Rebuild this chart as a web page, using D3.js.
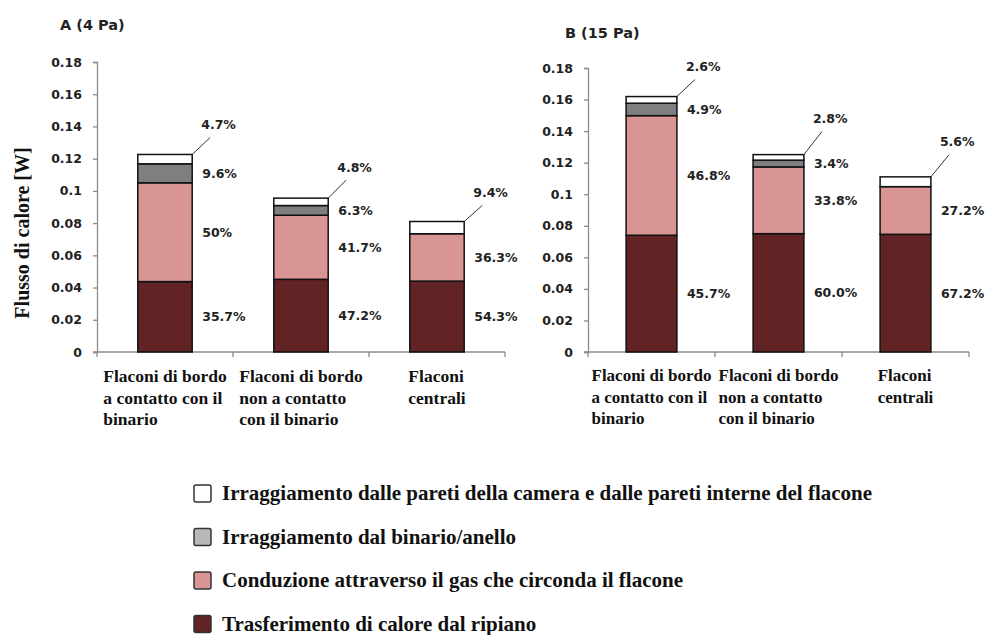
<!DOCTYPE html>
<html>
<head>
<meta charset="utf-8">
<script src="https://cdn.jsdelivr.net/npm/d3@7"></script>
<style>
    body { margin: 0; background: #fff; }
    .tick text, .pct, .ptitle { font-family: "DejaVu Sans", sans-serif; font-weight: bold; fill: #222; }
    .cat, .leg, .ytitle { font-family: "Liberation Serif", "Times New Roman", serif; font-weight: bold; fill: #111; }
</style>
</head>
<body>
<div id="main"></div>
<script>
// bottom to top in each bar
const SERIES = ["shelf", "gas", "ring", "walls"];
const LEGEND_LABELS = [
    "Irraggiamento dalle pareti della camera e dalle pareti interne del flacone",
    "Irraggiamento dal binario/anello",
    "Conduzione attraverso il gas che circonda il flacone",
    "Trasferimento di calore dal ripiano"
];
const CATEGORIES = [
    ["Flaconi di bordo", "a contatto con il", "binario"],
    ["Flaconi di bordo", "non a contatto", "con il binario"],
    ["Flaconi", "centrali"]
];
const Y_TICKS = [0, 0.02, 0.04, 0.06, 0.08, 0.1, 0.12, 0.14, 0.16, 0.18];

// panel A (4 Pa), values in W
const shelfA = [0.0437, 0.0451, 0.0440];
const gasA = [0.0613, 0.0398, 0.0294];
const ringA = [0.0118, 0.0060, 0];
const wallsA = [0.0058, 0.0046, 0.0076];
const pctA = {
    shelf: ["35.7%", "47.2%", "54.3%"],
    gas: ["50%", "41.7%", "36.3%"],
    ring: ["9.6%", "6.3%", null],
    walls: ["4.7%", "4.8%", "9.4%"]
};

// panel B (15 Pa)
const shelfB = [0.0740, 0.0750, 0.0746];
const gasB = [0.0758, 0.0423, 0.0302];
const ringB = [0.0079, 0.0043, 0];
const wallsB = [0.0042, 0.0035, 0.0062];
const pctB = {
    shelf: ["45.7%", "60.0%", "67.2%"],
    gas: ["46.8%", "33.8%", "27.2%"],
    ring: ["4.9%", "3.4%", null],
    walls: ["2.6%", "2.8%", "5.6%"]
};

const ctx = {
    w: 991,
    h: 635,
    colors: { shelf: "#622325", gas: "#d99594", ring: "#7f7f7f", walls: "#ffffff" },
    legendColors: ["#ffffff", "#b8b8b8", "#d99594", "#622325"],
};

const panels = [
    { title: "A  (4 Pa)", tx: 60, ty: 30, x0: 97, x1: 505, yTop: 62, yBottom: 352,
      vals: { shelf: shelfA, gas: gasA, ring: ringA, walls: wallsA }, pct: pctA,
      callout: [30, 31, 29], catY: 376, catSize: 17.5 },
    { title: "B  (15 Pa)", tx: 565, ty: 38, x0: 588, x1: 969, yTop: 68, yBottom: 352,
      vals: { shelf: shelfB, gas: gasB, ring: ringB, walls: wallsB }, pct: pctB,
      callout: [30, 36, 35], catY: 375, catSize: 17 }
];

function drawPanel(svgEl, p) {
    let rows = CATEGORIES.map((c, i) => {
        let r = { i: i };
        SERIES.forEach((s) => { r[s] = p.vals[s][i]; });
        return r;
    });
    let stacked = d3.stack().keys(SERIES)(rows);

    let x = d3.scaleBand().domain(d3.range(CATEGORIES.length)).range([p.x0, p.x1]).paddingInner(0.6).paddingOuter(0.3);
    let y = d3.scaleLinear().domain([0, 0.18]).range([p.yBottom, p.yTop]);

    let g = svgEl.append("g");

    // y axis
    let yAxis = g.append("g")
        .attr("transform", `translate(${p.x0},0)`)
        .call(d3.axisLeft(y).tickValues(Y_TICKS).tickFormat((d) => d3.format("")(+d.toFixed(2))).tickSize(4).tickPadding(11));
    yAxis.selectAll("path, line").attr("stroke", "#8c8c8c").attr("stroke-width", 1.3);
    yAxis.selectAll("text").attr("font-size", 12.5).style("font-family", "DejaVu Sans").style("font-weight", "bold").attr("fill", "#222");

    // x axis line with ticks at category boundaries
    let step = (p.x1 - p.x0) / CATEGORIES.length;
    g.append("line")
        .attr("x1", p.x0 - 4).attr("x2", p.x1)
        .attr("y1", p.yBottom).attr("y2", p.yBottom)
        .attr("stroke", "#8c8c8c").attr("stroke-width", 1.3);
    g.selectAll(".xt")
        .data(d3.range(CATEGORIES.length + 1))
        .enter()
        .append("line")
        .attr("x1", (d) => p.x0 + d * step).attr("x2", (d) => p.x0 + d * step)
        .attr("y1", p.yBottom).attr("y2", p.yBottom + 5)
        .attr("stroke", "#8c8c8c").attr("stroke-width", 1.3);

    // bars
    stacked.forEach(function (layer) {
        g.selectAll(null)
            .data(layer.filter((d) => d[1] - d[0] > 0))
            .enter()
            .append("rect")
            .attr("x", (d) => x(d.data.i))
            .attr("y", (d) => y(d[1]))
            .attr("width", x.bandwidth())
            .attr("height", (d) => y(d[0]) - y(d[1]))
            .attr("fill", ctx.colors[layer.key])
            .attr("stroke", "#111")
            .attr("stroke-width", 1.5);
    });

    // percentage labels
    stacked.forEach(function (layer) {
        layer.forEach(function (d) {
            let txt = p.pct[layer.key][d.data.i];
            if (txt == null) return;
            let right = x(d.data.i) + x.bandwidth();
            if (layer.key == "walls") {
                let top = y(d[1]);
                let off = p.callout[d.data.i];
                g.append("line")
                    .attr("x1", right).attr("y1", top)
                    .attr("x2", right + 18).attr("y2", top - off + 13)
                    .attr("stroke", "#333").attr("stroke-width", 1);
                g.append("text").classed("pct", true)
                    .attr("x", right + 9).attr("y", top - off)
                    .attr("dy", "0.35em").attr("font-size", 12.5)
                    .text(txt);
            } else {
                g.append("text").classed("pct", true)
                    .attr("x", right + 10).attr("y", (y(d[0]) + y(d[1])) / 2)
                    .attr("dy", "0.35em").attr("font-size", 12.5)
                    .text(txt);
            }
        });
    });

    // category labels: lines left aligned, block centred under bar
    CATEGORIES.forEach(function (lines, i) {
        let t = g.append("text").classed("cat", true).attr("font-size", p.catSize);
        lines.forEach(function (l, k) {
            t.append("tspan").attr("y", p.catY + 6 + k * 21.5).text(l);
        });
        let wmax = d3.max(t.selectAll("tspan").nodes(), (n) => n.getComputedTextLength());
        t.selectAll("tspan").attr("x", x(i) + x.bandwidth() / 2 - wmax / 2);
    });

    // panel title
    g.append("text").classed("ptitle", true)
        .attr("x", p.tx).attr("y", p.ty)
        .attr("font-size", 14.5)
        .text(p.title);
}

function createViz() {
    let svgEl = d3.select("#main").append("svg")
        .attr("width", ctx.w)
        .attr("height", ctx.h);
    svgEl.append("rect").attr("width", ctx.w).attr("height", ctx.h).attr("fill", "#fff");

    panels.forEach((p) => drawPanel(svgEl, p));

    // y axis title
    svgEl.append("text").classed("ytitle", true)
        .attr("transform", "translate(29,233) rotate(-90)")
        .attr("text-anchor", "middle")
        .attr("font-size", 20)
        .text("Flusso di calore [W]");

    // legend
    let legG = svgEl.append("g").attr("transform", "translate(194,0)");
    LEGEND_LABELS.forEach(function (lab, i) {
        let cy = 493 + i * 43.5;
        legG.append("rect")
            .attr("x", 0).attr("y", cy - 8)
            .attr("width", 17).attr("height", 17)
            .attr("rx", 2)
            .attr("fill", ctx.legendColors[i])
            .attr("stroke", "#333").attr("stroke-width", 1.5);
        legG.append("text").classed("leg", true)
            .attr("x", 28).attr("y", cy)
            .attr("dy", "0.35em")
            .attr("font-size", 21)
            .text(lab);
    });
}

createViz();
</script>
</body>
</html>
